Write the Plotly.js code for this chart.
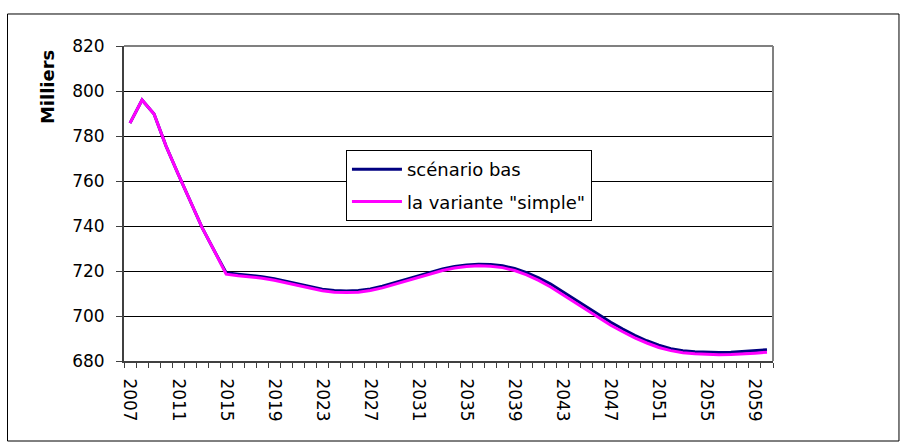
<!DOCTYPE html>
<html><head><meta charset="utf-8">
<script src="https://cdn.plot.ly/plotly-3.0.1.min.js"></script>
<style>html,body{margin:0;padding:0;background:#fff}#chart{width:907px;height:443px}</style>
</head><body><div id="chart"></div>
<script>
const years = [2007,2008,2009,2010,2011,2012,2013,2014,2015,2016,2017,2018,2019,2020,2021,2022,2023,2024,2025,2026,2027,2028,2029,2030,2031,2032,2033,2034,2035,2036,2037,2038,2039,2040,2041,2042,2043,2044,2045,2046,2047,2048,2049,2050,2051,2052,2053,2054,2055,2056,2057,2058,2059,2060];
const scenarioBas = [785.7,796.0,789.8,775.5,763.2,751.1,739.3,729.1,719.2,718.6,718.1,717.5,716.6,715.4,714.1,712.9,711.9,711.3,711.1,711.3,712.0,713.2,714.7,716.3,717.9,719.5,720.9,722.0,722.7,723.0,722.9,722.3,721.1,719.3,717.0,714.2,710.8,707.3,703.8,700.4,697.2,694.2,691.4,689.0,687.0,685.5,684.6,684.1,683.9,683.8,683.9,684.2,684.6,685.0];
const varianteSimple = [785.7,796.0,789.8,775.5,763.2,751.1,739.3,729.1,718.6,717.9,717.4,716.8,715.9,714.7,713.4,712.2,711.2,710.6,710.4,710.6,711.3,712.5,714.0,715.6,717.2,718.8,720.2,721.3,722.0,722.3,722.1,721.5,720.2,718.3,715.8,712.9,709.5,706.0,702.5,699.1,695.9,693.0,690.3,688.0,686.0,684.6,683.7,683.2,682.9,682.8,682.9,683.1,683.5,683.9];
const seriesNames = ['scénario bas', 'la variante "simple"'];
const xTickYears = [2007,2011,2015,2019,2023,2027,2031,2035,2039,2043,2047,2051,2055,2059];
const yTicks = [680,700,720,740,760,780,800,820];
const yTitle = 'Milliers';

const FONT = 'DejaVu Sans, Liberation Sans, Arial, sans-serif';
const traces = [
  {x: years, y: scenarioBas, name: seriesNames[0], type: 'scatter', mode: 'lines',
   line: {color: '#000080', width: 3}, legendgroup: 'a'},
  {x: years, y: varianteSimple, name: seriesNames[1], type: 'scatter', mode: 'lines',
   line: {color: '#FF00FF', width: 3}, legendgroup: 'b'}
];
const layout = {
  width: 907, height: 443,
  margin: {l: 124, r: 134, t: 46, b: 82, pad: 0},
  paper_bgcolor: '#ffffff', plot_bgcolor: '#ffffff',
  font: {family: FONT, size: 17, color: '#000'},
  showlegend: true,
  legend: {x: 0.342, y: 0.67, xanchor: 'left', yanchor: 'top',
    bgcolor: '#ffffff', bordercolor: '#000', borderwidth: 1,
    font: {family: FONT, size: 18, color: '#000'}, tracegroupgap: 6, itemwidth: 50},
  xaxis: {type: 'linear', range: [2006.5, 2060.5], tickmode: 'array', tickvals: xTickYears,
    ticktext: xTickYears.map(String), tickangle: 90, ticks: '', showgrid: false, zeroline: false,
    showline: true, linecolor: '#404040', linewidth: 2, ticklabelstandoff: 12,
    tickfont: {family: FONT, size: 17, color: '#000'},
    minor: {tick0: 2006.5, dtick: 1, ticks: 'outside', ticklen: 5, tickcolor: '#404040', tickwidth: 1, showgrid: false}},
  yaxis: {range: [680, 820], tickmode: 'array', tickvals: yTicks, ticks: 'outside', ticklen: 6,
    tickcolor: '#404040', tickwidth: 1, showgrid: true, gridcolor: '#000', gridwidth: 1,
    zeroline: false, showline: true, linecolor: '#404040', linewidth: 2, ticklabelstandoff: 8,
    tickfont: {family: FONT, size: 17, color: '#000'}},
  shapes: [
    {type: 'line', xref: 'paper', yref: 'paper', x0: 0, x1: 1, y0: 1, y1: 1, line: {color: '#808080', width: 2}},
    {type: 'line', xref: 'paper', yref: 'paper', x0: 1, x1: 1, y0: 0, y1: 1, line: {color: '#808080', width: 2}},
    {type: 'rect', xref: 'paper', yref: 'paper', x0: -0.1795, x1: 1.1941, y0: -0.254, y1: 1.1016,
     line: {color: '#000', width: 1}, fillcolor: 'rgba(0,0,0,0)'}
  ],
  annotations: [
    {text: '<b>' + yTitle + '</b>', xref: 'paper', yref: 'paper', x: -0.1179, y: 0.871,
     textangle: -90, showarrow: false, font: {family: FONT, size: 18, color: '#000'},
     xanchor: 'center', yanchor: 'middle'}
  ]
};
Plotly.newPlot('chart', traces, layout, {displayModeBar: false, staticPlot: true});
</script></body></html>
